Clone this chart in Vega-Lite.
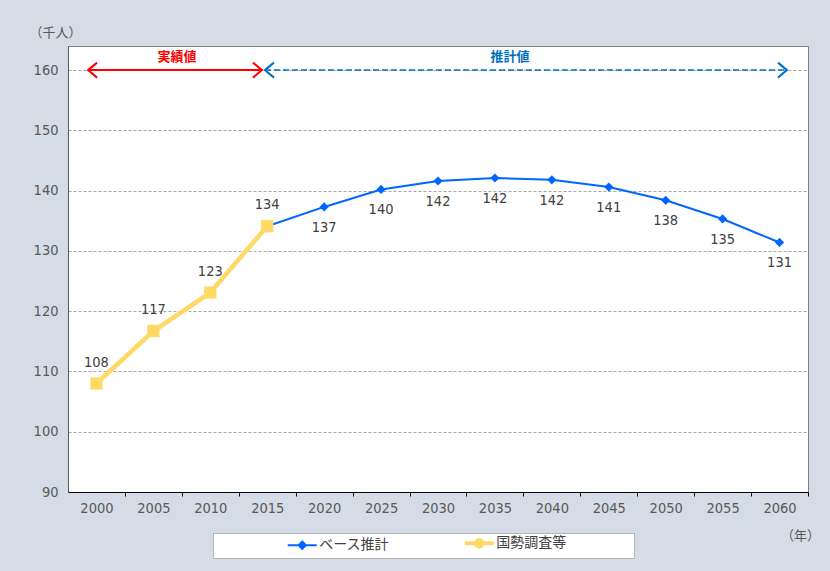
{
  "$schema": "https://vega.github.io/schema/vega-lite/v6.json",
  "width": 740,
  "height": 446,
  "autosize": {"type": "none"},
  "padding": {"left": 68, "top": 46, "right": 22, "bottom": 79},
  "background": "#d6dce5",
  "config": {
    "view": {"fill": "#ffffff", "stroke": "#7f7f7f", "strokeWidth": 1},
    "font": "Noto Sans CJK JP"
  },
  "datasets": {
    "pop": [
      {"year": 2000, "value": 108.0, "series": "国勢調査等"},
      {"year": 2005, "value": 116.7, "series": "国勢調査等"},
      {"year": 2010, "value": 123.1, "series": "国勢調査等"},
      {"year": 2015, "value": 134.1, "series": "国勢調査等"},
      {"year": 2015, "value": 134.1, "series": "ベース推計"},
      {"year": 2020, "value": 137.3, "series": "ベース推計"},
      {"year": 2025, "value": 140.2, "series": "ベース推計"},
      {"year": 2030, "value": 141.6, "series": "ベース推計"},
      {"year": 2035, "value": 142.1, "series": "ベース推計"},
      {"year": 2040, "value": 141.8, "series": "ベース推計"},
      {"year": 2045, "value": 140.6, "series": "ベース推計"},
      {"year": 2050, "value": 138.4, "series": "ベース推計"},
      {"year": 2055, "value": 135.3, "series": "ベース推計"},
      {"year": 2060, "value": 131.4, "series": "ベース推計"}
    ],
    "arrows": [
      {"name": "実績値", "start": 1999.26, "end": 2014.54, "value": 160, "labelX": 2007.07, "labelY": 162.2},
      {"name": "推計値", "start": 2014.8, "end": 2060.65, "value": 160, "labelX": 2036.32, "labelY": 162.2}
    ]
  },
  "layer": [
    {
      "data": {"name": "pop"},
      "mark": {"type": "line"},
      "encoding": {
        "x": {
          "field": "year", "type": "quantitative",
          "scale": {"domain": [1997.5, 2062.5], "nice": false, "zero": false},
          "axis": {
            "values": [2000, 2005, 2010, 2015, 2020, 2025, 2030, 2035, 2040, 2045, 2050, 2055, 2060],
            "format": "d",
            "tickOffset": 28.46,
            "labelOffset": -28.46,
            "tickSize": 4,
            "tickColor": "#000000",
            "domainColor": "#000000",
            "grid": false,
            "labelFont": "Liberation Sans Narrow, DejaVu Sans Condensed, sans-serif",
            "labelFontSize": 14.5,
            "labelColor": "#595959",
            "labelPadding": 5,
            "labelOverlap": false,
            "labelFlush": false,
            "title": "（年）",
            "titleX": 732,
            "titleY": 43,
            "titleAlign": "center",
            "titleBaseline": "middle",
            "titleFont": "Noto Sans CJK JP",
            "titleFontSize": 13,
            "titleFontWeight": "normal",
            "titleColor": "#595959"
          }
        },
        "y": {
          "field": "value", "type": "quantitative",
          "scale": {"domain": [90, 164], "nice": false, "zero": false},
          "axis": {
            "values": [90, 100, 110, 120, 130, 140, 150, 160],
            "ticks": false,
            "labelPadding": 10,
            "labelFont": "Liberation Sans Narrow, DejaVu Sans Condensed, sans-serif",
            "labelFontSize": 14.5,
            "labelColor": "#595959",
            "domainColor": "#595959",
            "grid": true,
            "gridColor": "#a6a6a6",
            "gridDash": [3, 2],
            "title": "（千人）",
            "titleAngle": 0,
            "titleX": -13,
            "titleY": -14,
            "titleAlign": "center",
            "titleBaseline": "middle",
            "titleFont": "Noto Sans CJK JP",
            "titleFontSize": 13,
            "titleFontWeight": "normal",
            "titleColor": "#595959"
          }
        },
        "color": {
          "field": "series", "type": "nominal",
          "scale": {"domain": ["ベース推計", "国勢調査等"], "range": ["#0066ff", "#ffd966"]},
          "legend": {
            "orient": "none",
            "legendX": 145,
            "legendY": 487,
            "direction": "horizontal",
            "title": "ああああ",
            "titleOrient": "right",
            "titleOpacity": 0,
            "titleFontSize": 14,
            "titlePadding": 9,
            "fillColor": "#ffffff",
            "strokeColor": "#b4b4b4",
            "padding": 3,
            "symbolOffset": 79.25,
            "columnPadding": 3,
            "labelFont": "Noto Sans CJK JP",
            "labelFontSize": 14,
            "labelColor": "#404040",
            "labelOffset": 10,
            "symbolSize": 210,
            "symbolStrokeWidth": 2,
            "encode": {
              "symbols": {
                "update": {
                  "shape": {"signal": "datum.value === 'ベース推計' ? 'M-2,0L2,0M0,-0.5L0.5,0L0,0.5L-0.5,0Z' : 'M-2,0L2,0M-0.45,0A0.45,0.45 0 1,0 0.45,0A0.45,0.45 0 1,0 -0.45,0Z'"},
                  "strokeWidth": {"signal": "datum.value === 'ベース推計' ? 2 : 4"},
                  "fill": {"signal": "datum.value === 'ベース推計' ? '#0066ff' : '#ffd966'"},
                  "stroke": {"signal": "datum.value === 'ベース推計' ? '#0066ff' : '#ffd966'"},
                  "opacity": {"value": 1}
                }
              }
            }
          }
        },
        "strokeWidth": {"condition": {"test": "datum.series === '国勢調査等'", "value": 4.5}, "value": 2}
      }
    },
    {
      "data": {"name": "pop"},
      "transform": [{"filter": "datum.series === 'ベース推計' && datum.year > 2015"}],
      "mark": {"type": "point", "shape": "diamond", "filled": true, "color": "#0066ff", "size": 85, "opacity": 1},
      "encoding": {
        "x": {"field": "year", "type": "quantitative"},
        "y": {"field": "value", "type": "quantitative"}
      }
    },
    {
      "data": {"name": "pop"},
      "transform": [{"filter": "datum.series === '国勢調査等'"}],
      "mark": {"type": "point", "shape": "square", "filled": true, "color": "#ffd966", "size": 150, "opacity": 1},
      "encoding": {
        "x": {"field": "year", "type": "quantitative"},
        "y": {"field": "value", "type": "quantitative"}
      }
    },
    {
      "data": {"name": "pop"},
      "transform": [{"filter": "datum.series === '国勢調査等'"}],
      "mark": {"type": "text", "dy": -21, "fontSize": 14.5, "color": "#404040", "font": "Liberation Sans Narrow, DejaVu Sans Condensed, sans-serif"},
      "encoding": {
        "x": {"field": "year", "type": "quantitative"},
        "y": {"field": "value", "type": "quantitative"},
        "text": {"field": "value", "type": "quantitative", "format": ".0f"}
      }
    },
    {
      "data": {"name": "pop"},
      "transform": [{"filter": "datum.series === 'ベース推計' && datum.year > 2015"}],
      "mark": {"type": "text", "dy": 21, "fontSize": 14.5, "color": "#404040", "font": "Liberation Sans Narrow, DejaVu Sans Condensed, sans-serif"},
      "encoding": {
        "x": {"field": "year", "type": "quantitative"},
        "y": {"field": "value", "type": "quantitative"},
        "text": {"field": "value", "type": "quantitative", "format": ".0f"}
      }
    },
    {
      "data": {"name": "arrows"},
      "transform": [{"filter": "datum.name === '実績値'"}],
      "mark": {"type": "rule", "color": "#ff0000", "strokeWidth": 2},
      "encoding": {
        "x": {"field": "start", "type": "quantitative"},
        "x2": {"field": "end"},
        "y": {"field": "value", "type": "quantitative"}
      }
    },
    {
      "data": {"name": "arrows"},
      "transform": [{"filter": "datum.name === '推計値'"}],
      "mark": {"type": "rule", "color": "#0070c0", "strokeWidth": 1.5, "strokeDash": [6, 3]},
      "encoding": {
        "x": {"field": "start", "type": "quantitative"},
        "x2": {"field": "end"},
        "y": {"field": "value", "type": "quantitative"}
      }
    },
    {
      "data": {"name": "arrows"},
      "mark": {"type": "point", "shape": "M1.2,-1L0,0L1.2,1", "filled": false, "size": 225, "strokeWidth": 2, "opacity": 1},
      "encoding": {
        "x": {"field": "start", "type": "quantitative"},
        "y": {"field": "value", "type": "quantitative"},
        "stroke": {"condition": {"test": "datum.name === '実績値'", "value": "#ff0000"}, "value": "#0070c0"}
      }
    },
    {
      "data": {"name": "arrows"},
      "mark": {"type": "point", "shape": "M-1.2,-1L0,0L-1.2,1", "filled": false, "size": 225, "strokeWidth": 2, "opacity": 1},
      "encoding": {
        "x": {"field": "end", "type": "quantitative"},
        "y": {"field": "value", "type": "quantitative"},
        "stroke": {"condition": {"test": "datum.name === '実績値'", "value": "#ff0000"}, "value": "#0070c0"}
      }
    },
    {
      "data": {"name": "arrows"},
      "mark": {"type": "text", "fontSize": 13, "fontWeight": "bold", "font": "Noto Sans CJK JP"},
      "encoding": {
        "x": {"field": "labelX", "type": "quantitative"},
        "y": {"field": "labelY", "type": "quantitative"},
        "text": {"field": "name"},
        "color": {"condition": {"test": "datum.name === '実績値'", "value": "#ff0000"}, "value": "#0070c0"}
      }
    }
  ]
}
